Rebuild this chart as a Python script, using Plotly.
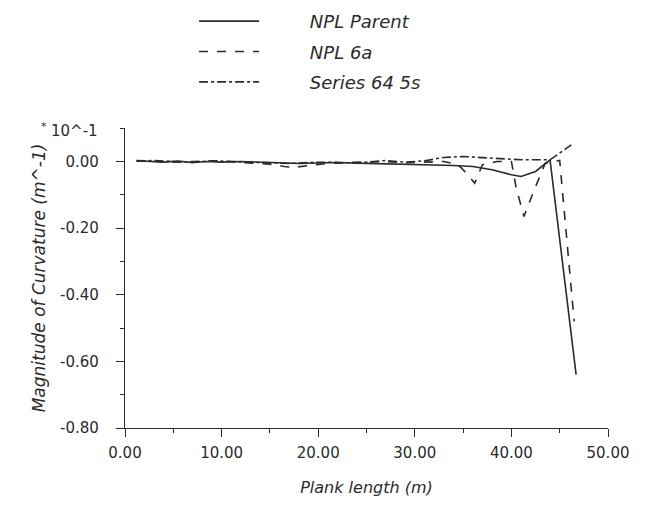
import plotly.graph_objects as go

# values (curvature in units of 10^-1 m^-1)
parent_x = [1.2, 2.5, 4, 5.5, 7, 8.5, 10, 12, 14, 16, 18, 20, 22, 24, 26, 28,
            30, 32, 34, 36, 38, 40, 41, 42.5, 44.0, 46.7]
parent_y = [0.002, 0.0, -0.002, 0.001, -0.003, 0.0, -0.002, 0.0, -0.003, -0.004,
            -0.006, -0.004, -0.003, -0.005, -0.006, -0.008, -0.009, -0.01, -0.012,
            -0.015, -0.025, -0.04, -0.045, -0.03, 0.005, -0.64]

npl6a_x = [1.2, 3, 5, 7, 9, 11, 13, 15, 16.5, 17.5, 19, 21, 23, 25, 27, 29, 31,
           33, 34.5, 35.5, 36.2, 37, 38.5, 40.0, 40.5, 41.3, 42.3, 43.5, 45.0, 46.5]
npl6a_y = [0.003, 0.001, -0.002, 0.0, 0.002, -0.001, -0.004, -0.008, -0.015,
           -0.018, -0.012, -0.006, -0.004, -0.003, 0.0, -0.004, -0.002, 0.0,
           -0.01, -0.04, -0.065, -0.01, 0.0, 0.0, -0.08, -0.165, -0.09, -0.005,
           0.003, -0.48]

s645_x = [1.2, 3, 5, 7, 9, 11, 13, 15, 17, 19, 21, 23, 25, 27, 29, 31, 33, 35,
          37, 39, 41, 44.0, 46.2]
s645_y = [0.001, 0.003, 0.0, -0.003, 0.002, 0.0, -0.002, -0.005, -0.006, -0.003,
          -0.002, -0.004, -0.002, 0.003, -0.002, 0.002, 0.012, 0.015, 0.012, 0.01,
          0.005, 0.005, 0.05]

x_ticks = [0, 10, 20, 30, 40, 50]
x_labels = ["0.00", "10.00", "20.00", "30.00", "40.00", "50.00"]
y_ticks = [0, -0.2, -0.4, -0.6, -0.8]
y_labels = ["0.00", "-0.20", "-0.40", "-0.60", "-0.80"]

INK = "#2b2b2b"
FONT = "DejaVu Sans, sans-serif"
PAD = "\u00a0" * 8

series = [
    ("NPL Parent", parent_x, parent_y, "solid"),
    ("NPL 6a", npl6a_x, npl6a_y, "dash"),
    ("Series 64 5s", s645_x, s645_y, "dashdot"),
]

fig = go.Figure()
for name, xs, ys, dash in series:
    fig.add_trace(go.Scatter(
        x=xs, y=ys, mode="lines", name=PAD + f"<i>{name}</i>",
        legendgroup=name,
        line=dict(color=INK, width=1.6, dash=dash),
    ))

# the page body adds an 8px offset, so margins are shifted to compensate
fig.update_layout(
    width=663, height=507,
    plot_bgcolor="white", paper_bgcolor="white",
    font=dict(family=FONT, size=15, color=INK),
    margin=dict(l=117, r=63, t=120, b=87, autoexpand=False),
    showlegend=True,
    legend=dict(
        x=0.143, y=1.417, xanchor="left", yanchor="top",
        bgcolor="rgba(0,0,0,0)", traceorder="grouped",
        tracegroupgap=4, itemwidth=60,
        font=dict(family=FONT, size=18, color=INK),
    ),
    annotations=[dict(
        xref="paper", yref="paper", x=-0.052, y=0.993,
        xanchor="right", yanchor="middle", showarrow=False,
        text="<sup>*</sup> 10^-1", font=dict(family=FONT, size=15, color=INK),
    )],
)

fig.update_xaxes(
    range=[0, 50], showgrid=False, zeroline=False,
    showline=True, linecolor=INK, linewidth=1.2,
    tickmode="array", tickvals=x_ticks, ticktext=x_labels,
    ticks="outside", ticklen=8, tickwidth=1.2, tickcolor=INK,
    ticklabelstandoff=3,
    minor=dict(tickmode="linear", tick0=5, dtick=10, ticks="outside",
               ticklen=4, tickcolor=INK, tickwidth=1.2),
    title=dict(text="<i>Plank length (m)</i>", standoff=20,
               font=dict(family=FONT, size=16, color=INK)),
)

fig.update_yaxes(
    range=[-0.8, 0.1005], showgrid=False, zeroline=False,
    showline=True, linecolor=INK, linewidth=1.2,
    tickmode="array", tickvals=y_ticks, ticktext=y_labels,
    ticks="outside", ticklen=8, tickwidth=1.2, tickcolor=INK,
    ticklabelstandoff=14,
    minor=dict(tickmode="linear", tick0=0.1, dtick=0.2, ticks="outside",
               ticklen=4, tickcolor=INK, tickwidth=1.2),
    title=dict(text="<i>Magnitude of Curvature (m^-1)</i>", standoff=10,
               font=dict(family=FONT, size=17, color=INK)),
)

fig.write_html("out.html")
